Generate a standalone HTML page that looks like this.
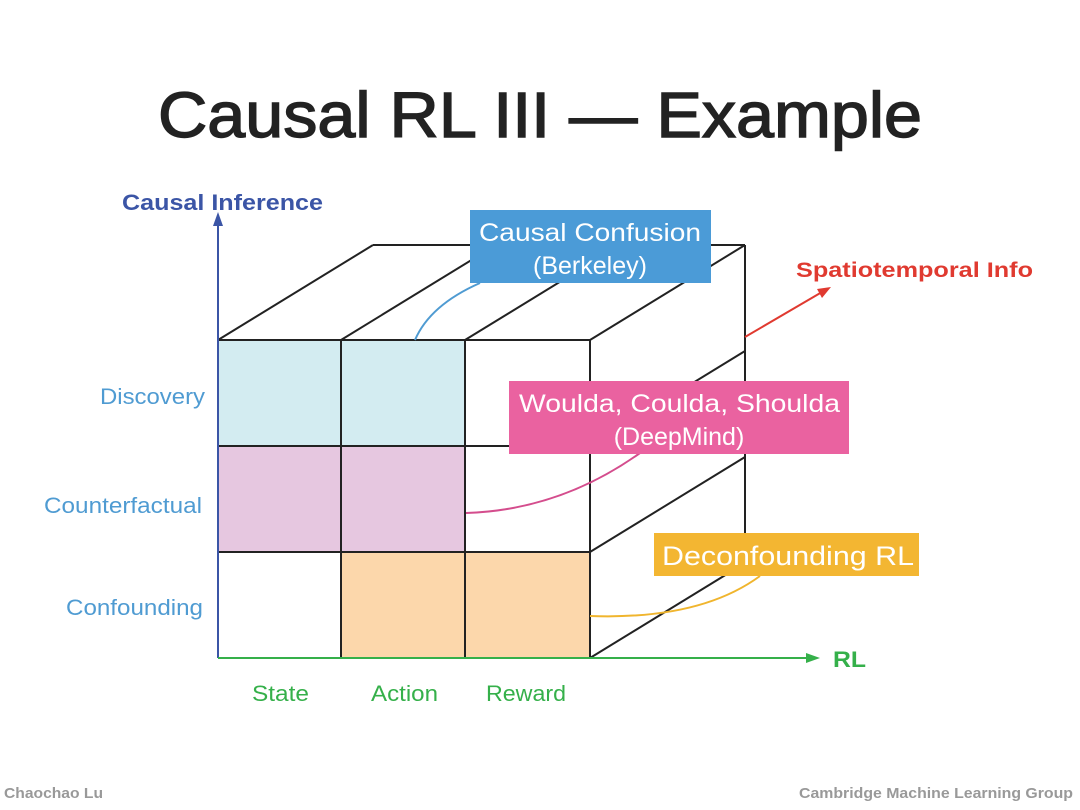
<!DOCTYPE html>
<html><head><meta charset="utf-8"><style>
html,body{margin:0;padding:0;background:#fff;}
svg{display:block;font-family:"Liberation Sans",Arial,sans-serif;}
</style></head><body>
<svg width="1080" height="810" viewBox="0 0 1080 810" xmlns="http://www.w3.org/2000/svg">
<text x="158" y="137" font-size="64" fill="#222" stroke="#222" stroke-width="1.4" textLength="764" lengthAdjust="spacingAndGlyphs">Causal RL III — Example</text>

<rect x="218" y="340" width="247" height="106" fill="#d3ecf1"/>
<rect x="218" y="446" width="247" height="106" fill="#e6c7e0"/>
<rect x="341" y="552" width="249" height="106" fill="#fcd7ab"/>

<g stroke="#222" stroke-width="2" fill="none">
<line x1="373" y1="245" x2="745" y2="245"/>
<line x1="218" y1="340" x2="373" y2="245"/>
<line x1="341" y1="340" x2="496" y2="245"/>
<line x1="465" y1="340" x2="620" y2="245"/>
<line x1="590" y1="340" x2="745" y2="245"/>
<line x1="745" y1="245" x2="745" y2="563"/>
<line x1="590" y1="446" x2="745" y2="351"/>
<line x1="590" y1="552" x2="745" y2="457"/>
<line x1="590" y1="658" x2="745" y2="563"/>
<line x1="218" y1="340" x2="590" y2="340"/>
<line x1="218" y1="446" x2="590" y2="446"/>
<line x1="218" y1="552" x2="590" y2="552"/>
<line x1="341" y1="340" x2="341" y2="658"/>
<line x1="465" y1="340" x2="465" y2="658"/>
<line x1="590" y1="340" x2="590" y2="658"/>
</g>

<line x1="218" y1="658" x2="218" y2="222" stroke="#3b55a6" stroke-width="2"/>
<polygon points="218,212 213,226 223,226" fill="#3b55a6"/>
<line x1="218" y1="658" x2="808" y2="658" stroke="#35b04a" stroke-width="2"/>
<polygon points="820,658 806,653 806,663" fill="#35b04a"/>
<line x1="745" y1="337" x2="822" y2="292" stroke="#e03a30" stroke-width="2"/>
<polygon points="831,287 817,289 822,298" fill="#e03a30"/>

<text x="122" y="210" font-size="22" font-weight="bold" fill="#3b55a6" textLength="201" lengthAdjust="spacingAndGlyphs">Causal Inference</text>
<text x="796" y="277" font-size="21" font-weight="bold" fill="#e03a30" textLength="237" lengthAdjust="spacingAndGlyphs">Spatiotemporal Info</text>
<text x="833" y="667" font-size="22" font-weight="bold" fill="#35b04a" textLength="33" lengthAdjust="spacingAndGlyphs">RL</text>

<g font-size="22" fill="#4f9bd2">
<text x="100" y="404" textLength="105" lengthAdjust="spacingAndGlyphs">Discovery</text>
<text x="44" y="513" textLength="158" lengthAdjust="spacingAndGlyphs">Counterfactual</text>
<text x="66" y="615" textLength="137" lengthAdjust="spacingAndGlyphs">Confounding</text>
</g>
<g font-size="22" fill="#35b04a">
<text x="252" y="701" textLength="57" lengthAdjust="spacingAndGlyphs">State</text>
<text x="371" y="701" textLength="67" lengthAdjust="spacingAndGlyphs">Action</text>
<text x="486" y="701" textLength="80" lengthAdjust="spacingAndGlyphs">Reward</text>
</g>

<path d="M415,340 Q430,305 480,283" stroke="#4f9bd2" stroke-width="2" fill="none"/>
<path d="M466,513 Q560,510 640,453" stroke="#d44d8d" stroke-width="2" fill="none"/>
<path d="M590,616 Q700,620 760,576" stroke="#f0b52e" stroke-width="2" fill="none"/>

<rect x="470" y="210" width="241" height="73" fill="#4b9bd7"/>
<text x="479" y="241" font-size="25" fill="#fff" textLength="222" lengthAdjust="spacingAndGlyphs">Causal Confusion</text>
<text x="590" y="274" text-anchor="middle" font-size="25" fill="#fff">(Berkeley)</text>

<rect x="509" y="381" width="340" height="73" fill="#ea62a0"/>
<text x="519" y="412" font-size="25" fill="#fff" textLength="321" lengthAdjust="spacingAndGlyphs">Woulda, Coulda, Shoulda</text>
<text x="679" y="445" text-anchor="middle" font-size="25" fill="#fff">(DeepMind)</text>

<rect x="654" y="533" width="265" height="43" fill="#f3b632"/>
<text x="662" y="565" font-size="27" fill="#fff" textLength="252" lengthAdjust="spacingAndGlyphs">Deconfounding RL</text>

<text x="4" y="798" font-size="15" font-weight="bold" fill="#999" textLength="99" lengthAdjust="spacingAndGlyphs">Chaochao Lu</text>
<text x="799" y="798" font-size="15" font-weight="bold" fill="#999" textLength="274" lengthAdjust="spacingAndGlyphs">Cambridge Machine Learning Group</text>
</svg>
</body></html>
